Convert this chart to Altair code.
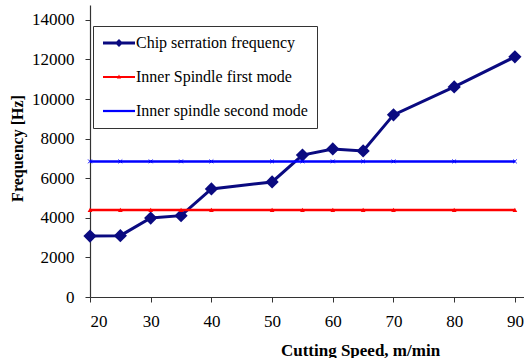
import altair as alt
import pandas as pd

# Cutting speed (m/min) and measured / modal frequencies (Hz)
speed = [20, 25, 30, 35, 40, 50, 55, 60, 65, 70, 80, 90]
chip_freq = [3080, 3100, 3990, 4110, 5460, 5810, 7170, 7480, 7380, 9200, 10610, 12130]
first_mode = [4400] * len(speed)
second_mode = [6850] * len(speed)

series_names = [
    "Chip serration frequency",
    "Inner Spindle first mode",
    "Inner spindle second mode",
]
series_colors = ["#0a0a80", "#ff0000", "#0000ff"]

y_ticks = [0, 2000, 4000, 6000, 8000, 10000, 12000, 14000]
x_ticks = [20, 30, 40, 50, 60, 70, 80, 90]

SERIF = "Liberation Serif"

rows = []
for name, vals in zip(series_names, [chip_freq, first_mode, second_mode]):
    for s, v in zip(speed, vals):
        rows.append({"speed": s, "freq": v, "series": name})
df = pd.DataFrame(rows)

# legend glyphs: a short line segment with the series' marker on it
legend_shapes = [
    "M-2,-0.18H2V0.18H-2Z M0,-0.5L0.5,0L0,0.5L-0.5,0Z",
    "M-2,-0.14H2V0.14H-2Z M0,-0.3L0.26,0.18L-0.26,0.18Z",
    "M-2,-0.14H2V0.14H-2Z",
]

x_enc = alt.X(
    "speed:Q",
    scale=alt.Scale(domain=[20, 91.5], nice=False, zero=False),
    axis=alt.Axis(
        values=x_ticks,
        format="d",
        labelFont=SERIF,
        labelFontSize=17,
        labelPadding=11,
        title="Cutting Speed, m/min",
        titleFont=SERIF,
        titleFontSize=17,
        titleFontWeight="bold",
        titleX=270,
        titleY=58,
        titleBaseline="alphabetic",
        titleAlign="center",
    ),
)
y_enc = alt.Y(
    "freq:Q",
    scale=alt.Scale(domain=[0, 14750], nice=False),
    axis=alt.Axis(
        values=y_ticks,
        format="d",
        labelFont=SERIF,
        labelFontSize=17,
        labelPadding=11,
        title="Frequency [Hz]",
        titleFont=SERIF,
        titleFontSize=16,
        titleFontWeight="bold",
        titleAngle=-90,
        titleX=-73,
        titleY=143,
        titleAlign="center",
        titleBaseline="middle",
    ),
)

base = alt.Chart(df).encode(x=x_enc, y=y_enc)

marker_specs = [
    dict(shape="diamond", filled=True, size=175),
    dict(shape="triangle-up", filled=True, size=22),
    dict(shape="M-1,-1L1,1M1,-1L-1,1", filled=False, size=14, strokeWidth=1),
]
line_widths = [3, 2.5, 2.5]

layers = []
for name, col, lw, mk in zip(series_names, series_colors, line_widths, marker_specs):
    sub = base.transform_filter(alt.datum.series == name)
    layers.append(sub.mark_line(color=col, strokeWidth=lw))
    layers.append(sub.mark_point(color=col, opacity=1, **mk))

# carries the legend only; no rows pass the filter
legend_layer = base.transform_filter(alt.datum.speed < 0).mark_point(filled=True, opacity=1).encode(
    color=alt.Color(
        "series:N",
        scale=alt.Scale(domain=series_names, range=series_colors),
        legend=alt.Legend(
            title=None,
            orient="none",
            legendX=3,
            legendY=21,
            padding=9,
            symbolSize=256,
            symbolOffset=9,
            symbolStrokeWidth=0,
            symbolOpacity=1,
            labelOffset=9,
            labelFont=SERIF,
            labelFontSize=16,
            labelColor="#000000",
            rowPadding=18,
            strokeColor="#333333",
            fillColor="#ffffff",
            labelLimit=300,
        ),
    ),
    shape=alt.Shape(
        "series:N",
        scale=alt.Scale(domain=series_names, range=legend_shapes),
        legend=alt.Legend(title=None, orient="none", legendX=3, legendY=21),
    ),
)
layers.append(legend_layer)

chart = (
    alt.layer(*layers)
    .properties(
        width=434,
        height=292,
        autosize=alt.AutoSizeParams(type="none"),
        padding={"left": 90, "top": 5, "right": 0, "bottom": 61},
        background="#ffffff",
    )
    .configure_view(stroke=None)
    .configure_axis(
        grid=False,
        domainColor="#333333",
        domainWidth=1.2,
        tickColor="#333333",
        tickSize=5,
        labelColor="#000000",
        titleColor="#000000",
    )
)

chart.save("out.html", embed_options={"renderer": "svg", "actions": False})
